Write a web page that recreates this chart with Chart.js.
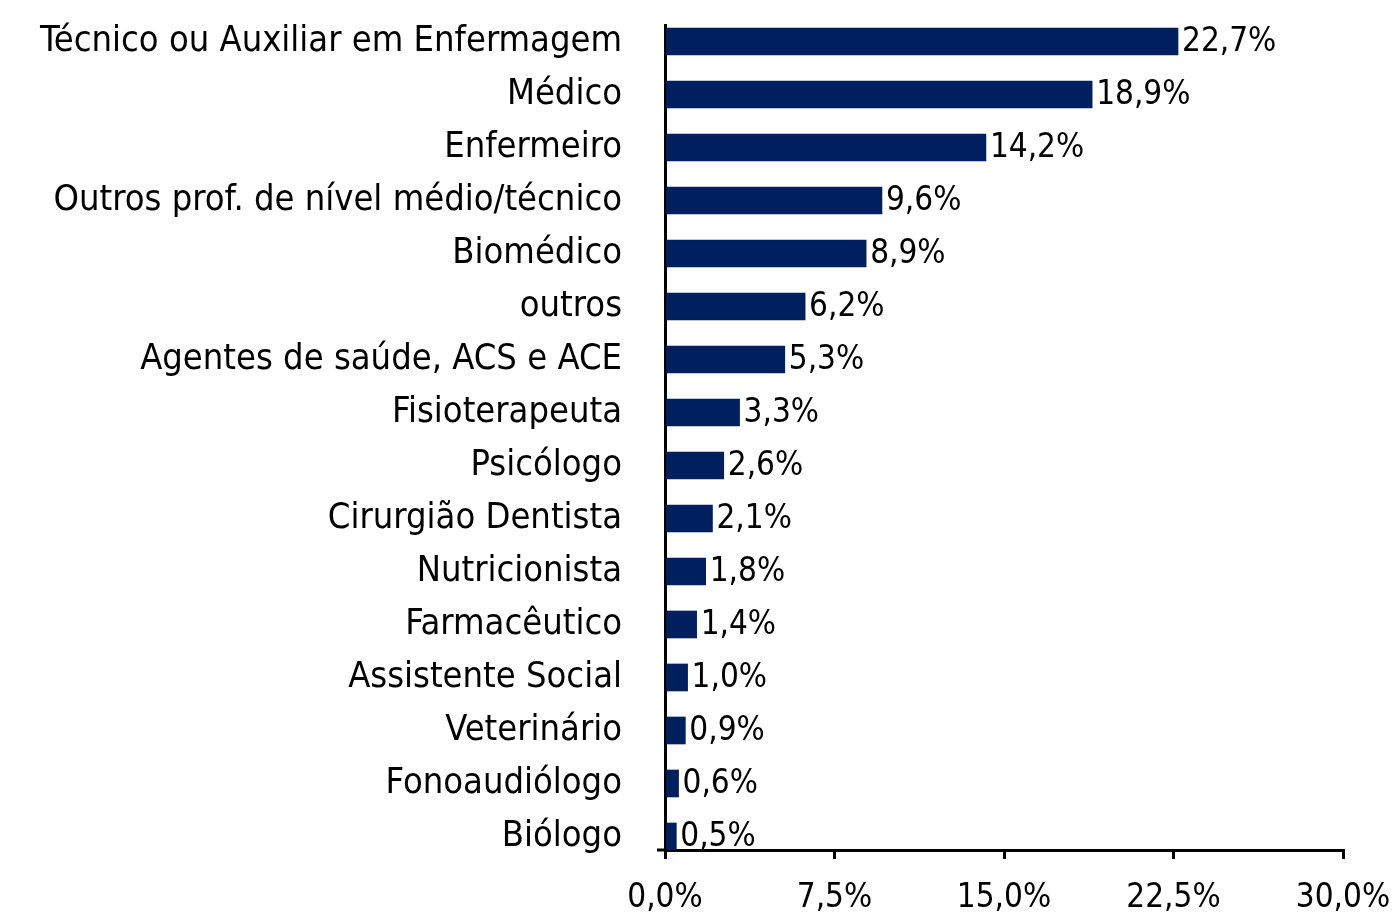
<!DOCTYPE html>
<html>
<head>
<meta charset="utf-8">
<script src="https://cdn.jsdelivr.net/npm/chart.js@4/dist/chart.umd.min.js"></script>
<style>
  html, body { margin: 0; padding: 0; background: #ffffff; }
  #wrap { width: 1396px; height: 914px; }
</style>
</head>
<body>
<div id="wrap"><canvas id="c" width="1396" height="914"></canvas></div>
<script>
const categories = [
  "Técnico ou Auxiliar em Enfermagem",
  "Médico",
  "Enfermeiro",
  "Outros prof. de nível médio/técnico",
  "Biomédico",
  "outros",
  "Agentes de saúde, ACS e ACE",
  "Fisioterapeuta",
  "Psicólogo",
  "Cirurgião Dentista",
  "Nutricionista",
  "Farmacêutico",
  "Assistente Social",
  "Veterinário",
  "Fonoaudiólogo",
  "Biólogo"
];
const values = [22.7, 18.9, 14.2, 9.6, 8.9, 6.2, 5.3, 3.3, 2.6, 2.1, 1.8, 1.4, 1.0, 0.9, 0.6, 0.5];
const xTicks = [0, 7.5, 15, 22.5, 30];

const FONT = "'DejaVu Sans Condensed', 'DejaVu Sans', sans-serif";
const fmt = v => v.toFixed(1).replace('.', ',') + '%';

const barData = values.map((v, i) => ({ x: v, y: i }));

const dataLabels = {
  id: 'dataLabels',
  afterDatasetsDraw(chart) {
    const ctx = chart.ctx;
    const meta = chart.getDatasetMeta(0);
    ctx.save();
    ctx.font = "33px " + FONT;
    ctx.fillStyle = '#000000';
    ctx.textAlign = 'left';
    ctx.textBaseline = 'middle';
    meta.data.forEach((bar, i) => {
      ctx.fillText(fmt(values[i]), bar.x + 4, bar.y + 1);
    });
    ctx.restore();
  }
};

const axisCorner = {
  id: 'axisCorner',
  afterDraw(chart) {
    const ctx = chart.ctx;
    const a = chart.chartArea;
    ctx.save();
    ctx.strokeStyle = '#000000';
    ctx.lineWidth = 3;
    ctx.beginPath();
    ctx.moveTo(a.left - 8, a.bottom);
    ctx.lineTo(a.left, a.bottom);
    ctx.stroke();
    ctx.restore();
  }
};

new Chart(document.getElementById('c'), {
  type: 'bar',
  data: {
    datasets: [{
      data: barData,
      backgroundColor: '#001F5E',
      borderWidth: 0,
      barThickness: 27
    }]
  },
  options: {
    indexAxis: 'y',
    responsive: false,
    devicePixelRatio: 1,
    animation: false,
    layout: { padding: { top: 25, right: 53, left: 0, bottom: 0 } },
    plugins: {
      legend: { display: false },
      tooltip: { enabled: false },
      title: { display: false }
    },
    scales: {
      x: {
        type: 'linear',
        position: 'bottom',
        min: xTicks[0],
        max: xTicks[xTicks.length - 1],
        afterBuildTicks: s => { s.ticks = xTicks.map(v => ({ value: v })); },
        afterFit: s => { s.height = 64; s.paddingLeft = 0; s.paddingRight = 0; },
        ticks: {
          font: { family: FONT, size: 33 },
          color: '#000000',
          padding: 20,
          maxRotation: 0,
          autoSkip: false,
          callback: v => fmt(v)
        },
        grid: {
          display: true,
          drawOnChartArea: false,
          drawTicks: true,
          tickLength: 9,
          color: '#000000',
          lineWidth: 3
        },
        border: { display: true, color: '#000000', width: 3 }
      },
      y: {
        type: 'linear',
        reverse: true,
        offset: false,
        min: -0.311,
        max: 15.255,
        afterFit: s => { s.width = 665; s.paddingTop = 0; s.paddingBottom = 0; },
        ticks: {
          stepSize: 1,
          maxTicksLimit: 30,
          includeBounds: false,
          autoSkip: false,
          font: { family: FONT, size: 36 },
          color: '#000000',
          padding: 43,
          callback: v => (Number.isInteger(v) && categories[v] !== undefined) ? categories[v] : ''
        },
        grid: { display: true, offset: false, drawOnChartArea: false, drawTicks: false },
        border: { display: true, color: '#000000', width: 3 }
      }
    }
  },
  plugins: [dataLabels, axisCorner]
});
</script>
</body>
</html>
